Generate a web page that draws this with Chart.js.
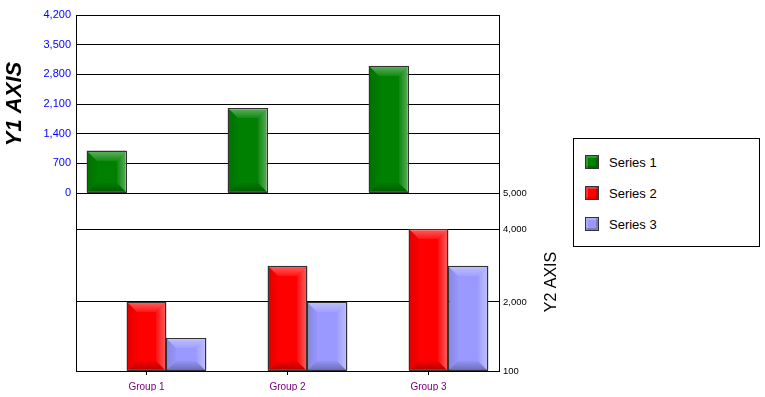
<!DOCTYPE html>
<html>
<head>
<meta charset="utf-8">
<script src="https://cdn.jsdelivr.net/npm/chart.js@4.4.1/dist/chart.umd.min.js"></script>
<style>
  html, body { margin: 0; padding: 0; background: #fff; }
  #wrap { position: relative; width: 765px; height: 397px; overflow: hidden; }
  canvas { position: absolute; left: 0; top: 0; }
  #legend { position: absolute; left: 573px; top: 138px; width: 185px; height: 107px;
    border: 1px solid #000; background: #fff; font-family: 'Liberation Sans', Arial, sans-serif; font-size: 13px; color: #000; }
  .item { position: absolute; left: 11px; height: 16px; display: flex; align-items: center; }
  .sw { width: 12px; height: 12px; border: 1px solid #333; margin-right: 10px; box-sizing: content-box;
    box-shadow: inset -2px -2px 0 rgba(0,0,0,0.2), inset 2px 2px 0 rgba(255,255,255,0.2); }
</style>
</head>
<body>
<div id="wrap">
  <canvas id="top" width="765" height="397"></canvas>
  <canvas id="bot" width="765" height="397"></canvas>
  <div id="legend"></div>
</div>
<script>
const categories = ['Group 1', 'Group 2', 'Group 3'];
const seriesNames = ['Series 1', 'Series 2', 'Series 3'];
const seriesColors = ['#008000', '#ff0000', '#9999ff'];
const series1 = [1000, 2000, 3000];
const series2 = [2000, 3000, 4000];
const series3 = [1000, 2000, 3000];
const y1Ticks = [0, 700, 1400, 2100, 2800, 3500, 4200];
const y2Ticks = [100, 2000, 4000, 5000];
const y1Title = 'Y1 AXIS';
const y2Title = 'Y2 AXIS';

Chart.defaults.font.family = "'Liberation Sans', Arial, sans-serif";
const fmt = v => Number(v).toLocaleString('en-US');
const empty = categories.map(() => null);

const bevel = {
  id: 'bevel',
  afterDatasetsDraw(chart) {
    const ctx = chart.ctx;
    const ca = chart.chartArea;
    chart.data.datasets.forEach((ds, i) => {
      const meta = chart.getDatasetMeta(i);
      meta.data.forEach((bar, j) => {
        if (ds.data[j] === null || ds.data[j] === undefined) return;
        const p = bar.getProps(['x', 'y', 'base', 'width'], true);
        const l = Math.round(p.x - p.width / 2), r = Math.round(p.x + p.width / 2);
        const t = Math.round(Math.max(Math.min(p.y, p.base), ca.top));
        const b = Math.round(Math.min(Math.max(p.y, p.base), ca.bottom));
        const h = b - t;
        if (h <= 0) return;
        const d = Math.min(10, (r - l) / 2, h / 2);
        ctx.save();
        const poly = (pts, fill) => {
          ctx.beginPath();
          ctx.moveTo(pts[0][0], pts[0][1]);
          for (let k = 1; k < pts.length; k++) ctx.lineTo(pts[k][0], pts[k][1]);
          ctx.closePath();
          ctx.fillStyle = fill;
          ctx.fill();
        };
        const lg = (x0, y0, x1, y1, c0, c1) => {
          const g = ctx.createLinearGradient(x0, y0, x1, y1);
          g.addColorStop(0, c0); g.addColorStop(1, c1);
          return g;
        };
        poly([[l, t], [r, t], [r - d, t + d], [l + d, t + d]],
          lg(0, t, 0, t + d, 'rgba(255,255,255,0.38)', 'rgba(255,255,255,0.08)'));
        poly([[r, t], [r, b], [r - d, b - d], [r - d, t + d]],
          lg(r - d, 0, r, 0, 'rgba(255,255,255,0.05)', 'rgba(255,255,255,0.38)'));
        poly([[l, b], [r, b], [r - d, b - d], [l + d, b - d]],
          lg(0, b - d, 0, b, 'rgba(0,0,0,0.04)', 'rgba(0,0,0,0.3)'));
        poly([[l, t], [l, b], [l + d, b - d], [l + d, t + d]],
          lg(l, 0, l + d, 0, 'rgba(0,0,0,0.12)', 'rgba(0,0,0,0.02)'));
        ctx.strokeStyle = '#333';
        ctx.lineWidth = 1;
        ctx.strokeRect(l + 0.5, t + 0.5, r - l - 1, b - t - 1);
        ctx.restore();
      });
    });
  }
};

const y2TitlePlugin = {
  id: 'y2title',
  afterDraw(chart) {
    const ctx = chart.ctx;
    const ca = chart.chartArea;
    ctx.save();
    ctx.translate(552, (ca.top + ca.bottom) / 2);
    ctx.rotate(-Math.PI / 2);
    ctx.font = "16px 'Liberation Sans', Arial, sans-serif";
    ctx.fillStyle = '#000';
    ctx.textAlign = 'center';
    ctx.textBaseline = 'middle';
    ctx.fillText(y2Title, 0, 0);
    ctx.restore();
  }
};

const topData = [series1, empty, empty];
const bottomData = [empty, series2, series3];
function makeDatasets(list) {
  return seriesNames.map((name, i) => ({
    label: name,
    data: list[i],
    backgroundColor: seriesColors[i],
    borderColor: '#333',
    borderWidth: 1,
    borderSkipped: false,
    barPercentage: 1,
    categoryPercentage: 0.85,
    base: list === bottomData ? y2Ticks[0] : undefined
  }));
}

new Chart(document.getElementById('top'), {
  type: 'bar',
  data: { labels: categories, datasets: makeDatasets(topData) },
  plugins: [bevel],
  options: {
    responsive: false, animation: false, events: [], devicePixelRatio: 1,
    layout: { padding: { left: 0, top: 15, right: 266, bottom: 204 } },
    plugins: { legend: { display: false }, tooltip: { enabled: false } },
    scales: {
      x: { display: false },
      y: {
        position: 'left', min: y1Ticks[0], max: y1Ticks[y1Ticks.length - 1],
        afterBuildTicks: s => { s.ticks = y1Ticks.map(v => ({ value: v })); },
        afterFit: s => { s.width = 76; },
        ticks: { color: '#0000ff', font: { size: 11 }, padding: 5, callback: v => fmt(v) },
        grid: { color: '#000', drawTicks: false, lineWidth: 1 },
        border: { color: '#000' },
        title: { display: true, text: y1Title, color: '#000', font: { size: 22, weight: 'bold', style: 'italic' }, padding: { top: 2, bottom: 0 } }
      },
      yR: {
        position: 'right', display: true,
        ticks: { display: false },
        grid: { drawOnChartArea: false, drawTicks: false },
        border: { color: '#000' },
        afterFit: s => { s.width = 0; }
      }
    }
  }
});

new Chart(document.getElementById('bot'), {
  type: 'bar',
  data: { labels: categories, datasets: makeDatasets(bottomData) },
  plugins: [bevel, y2TitlePlugin],
  options: {
    responsive: false, animation: false, events: [], devicePixelRatio: 1,
    layout: { padding: { left: 76, top: 193, right: 226, bottom: 6 } },
    plugins: { legend: { display: false }, tooltip: { enabled: false } },
    scales: {
      x: {
        position: 'bottom',
        grid: { display: true, drawOnChartArea: false, offset: false, tickLength: 4, color: '#000' },
        border: { color: '#000' },
        ticks: { color: '#800080', font: { size: 10 }, padding: 6 },
        afterFit: s => { s.height = 20; }
      },
      y: {
        position: 'right', min: y2Ticks[0], max: y2Ticks[y2Ticks.length - 1],
        afterBuildTicks: s => { s.ticks = y2Ticks.map(v => ({ value: v })); },
        afterFit: s => { s.width = 40; },
        ticks: { color: '#000', font: { size: 9.5 }, padding: 4, callback: v => fmt(v) },
        grid: { color: '#000', drawTicks: false, lineWidth: 1 },
        border: { color: '#000' }
      },
      yL: {
        position: 'left', display: true,
        ticks: { display: false },
        grid: { drawOnChartArea: false, drawTicks: false },
        border: { color: '#000' },
        afterFit: s => { s.width = 0; }
      }
    }
  }
});

const legend = document.getElementById('legend');
const legendTops = [15, 46, 77];
seriesNames.forEach((name, i) => {
  const it = document.createElement('div');
  it.className = 'item';
  it.style.top = legendTops[i] + 'px';
  const sw = document.createElement('span');
  sw.className = 'sw';
  sw.style.background = seriesColors[i];
  const tx = document.createElement('span');
  tx.textContent = name;
  it.appendChild(sw);
  it.appendChild(tx);
  legend.appendChild(it);
});
</script>
</body>
</html>
